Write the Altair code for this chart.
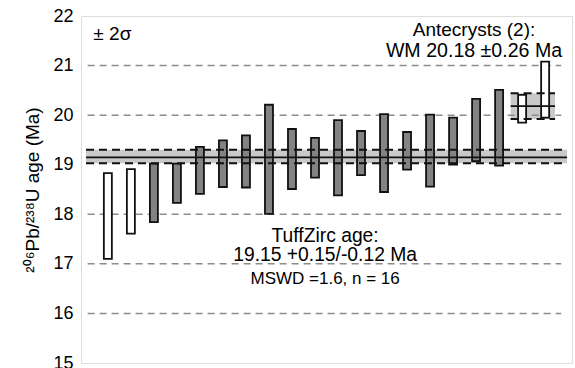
import altair as alt
import pandas as pd

FONT = "Liberation Sans"

# ---- data ----
grain = list(range(1, 21))
age_lo = [17.10, 17.61, 17.84, 18.23, 18.41, 18.55, 18.54, 18.01, 18.51, 18.74,
          18.38, 18.79, 18.45, 18.90, 18.56, 19.00, 19.07, 18.98, 19.85, 19.95]
age_hi = [18.83, 18.91, 19.02, 19.02, 19.36, 19.49, 19.59, 20.21, 19.72, 19.54,
          19.90, 19.68, 20.02, 19.66, 20.01, 19.95, 20.33, 20.51, 20.41, 21.08]
group = ["excluded", "excluded"] + ["used"] * 16 + ["antecryst", "antecryst"]

tz_age, tz_plus, tz_minus = 19.15, 0.15, 0.12
wm_age, wm_err = 20.18, 0.26

grid_vals = [16, 17, 18, 20, 21]
y_ticks = [15, 16, 17, 18, 19, 20, 21, 22]

X_DOMAIN = [0.05, 20.95]
Y_DOMAIN = [15, 22]
ANT_X = [18.5, 20.43]
GRID_X = [0.12, 20.7]

bars = pd.DataFrame({"grain": grain, "lo": age_lo, "hi": age_hi, "group": group})

bands = pd.DataFrame({
    "x0": [X_DOMAIN[0], ANT_X[0]],
    "x1": [X_DOMAIN[1], ANT_X[1]],
    "lo": [tz_age - tz_minus, wm_age - wm_err],
    "hi": [tz_age + tz_plus, wm_age + wm_err],
})
solid_lines = pd.DataFrame({
    "x0": [X_DOMAIN[0], ANT_X[0]],
    "x1": [X_DOMAIN[1], ANT_X[1]],
    "y": [tz_age, wm_age],
})
dashed_lines = pd.DataFrame({
    "x0": [X_DOMAIN[0], X_DOMAIN[0], ANT_X[0], ANT_X[0]],
    "x1": [X_DOMAIN[1], X_DOMAIN[1], ANT_X[1], ANT_X[1]],
    "y": [tz_age - tz_minus, tz_age + tz_plus, wm_age - wm_err, wm_age + wm_err],
})
grid = pd.DataFrame({"y": grid_vals, "x0": GRID_X[0], "x1": GRID_X[1]})

center_text = pd.DataFrame({
    "text": ["Antecrysts (2):", "WM 20.18 ±0.26 Ma", "TuffZirc age:",
             "19.15 +0.15/-0.12 Ma", "MSWD =1.6, n = 16"],
    "x": [16.91, 16.91, 10.44, 10.44, 10.44],
    "y": [21.60, 21.18, 17.45, 17.06, 16.60],
    "fs": [19, 19.6, 19.3, 19.3, 17],
})
left_text = pd.DataFrame({"text": ["± 2σ"], "x": [0.37], "y": [21.52]})

xs = alt.Scale(domain=X_DOMAIN, nice=False, zero=False)
ys = alt.Scale(domain=Y_DOMAIN, nice=False, zero=False)

y_axis = alt.Axis(
    values=y_ticks, ticks=False, domain=False, grid=False,
    labelFont=FONT, labelFontSize=18, labelColor="black", labelPadding=8,
    title="²⁰⁶Pb/²³⁸U age (Ma)", titleFont=FONT, titleFontSize=19,
    titleFontWeight="normal", titleColor="black", titlePadding=10,
)

band_layer = alt.Chart(bands).mark_rect(color="#c9c9c9").encode(
    x=alt.X("x0:Q", scale=xs, axis=None),
    x2="x1:Q",
    y=alt.Y("lo:Q", scale=ys, axis=y_axis),
    y2="hi:Q",
)

grid_layer = alt.Chart(grid).mark_rule(
    color="#8c8c8c", strokeWidth=1.5, strokeDash=[7, 5]
).encode(
    x=alt.X("x0:Q", scale=xs), x2="x1:Q", y=alt.Y("y:Q", scale=ys)
)

bar_layer = alt.Chart(bars).mark_bar(
    size=8, stroke="#111111", strokeWidth=1.8
).encode(
    x=alt.X("grain:Q", scale=xs),
    y=alt.Y("lo:Q", scale=ys),
    y2="hi:Q",
    color=alt.Color("group:N", legend=None,
                    scale=alt.Scale(domain=["used", "excluded", "antecryst"],
                                    range=["#838383", "white", "white"])),
)

solid_layer = alt.Chart(solid_lines).mark_rule(color="#111111", strokeWidth=1.8).encode(
    x=alt.X("x0:Q", scale=xs), x2="x1:Q", y=alt.Y("y:Q", scale=ys)
)
dashed_layer = alt.Chart(dashed_lines).mark_rule(
    color="#111111", strokeWidth=2, strokeDash=[8, 5]
).encode(
    x=alt.X("x0:Q", scale=xs), x2="x1:Q", y=alt.Y("y:Q", scale=ys)
)

ctext = alt.Chart(center_text).mark_text(
    font=FONT, align="center", baseline="alphabetic", color="black"
).encode(
    x=alt.X("x:Q", scale=xs), y=alt.Y("y:Q", scale=ys), text="text:N",
    size=alt.Size("fs:Q", scale=None),
)
ltext = alt.Chart(left_text).mark_text(
    font=FONT, align="left", baseline="alphabetic", color="black", fontSize=19
).encode(
    x=alt.X("x:Q", scale=xs), y=alt.Y("y:Q", scale=ys), text="text:N"
)

chart = alt.layer(
    band_layer, grid_layer, bar_layer, solid_layer, dashed_layer, ctext, ltext
).properties(
    width=491, height=347,
    padding={"left": 81, "top": 16, "right": 3, "bottom": 5},
    autosize=alt.AutoSizeParams(type="none"),
).configure_view(
    stroke="#111111", strokeWidth=2.2
).configure(background="white")

chart.save("out.html", embed_options={"renderer": "svg", "actions": False})
